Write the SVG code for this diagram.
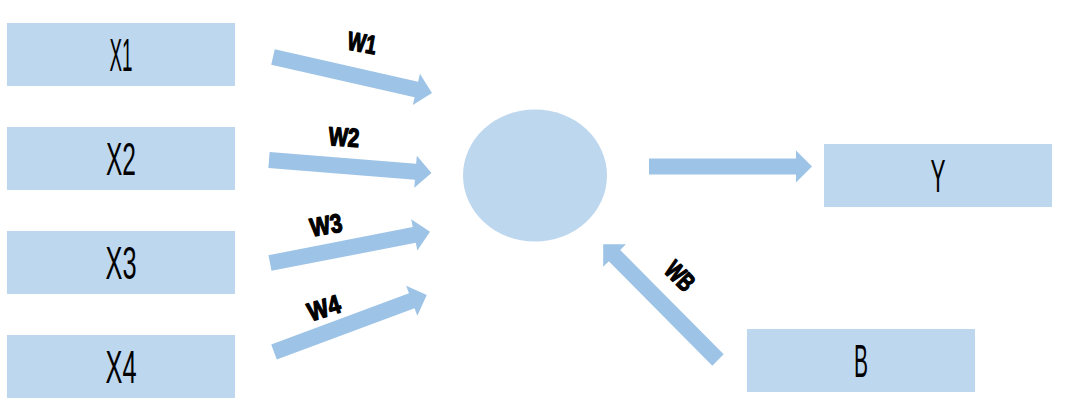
<svg xmlns="http://www.w3.org/2000/svg" xmlns:xlink="http://www.w3.org/1999/xlink" width="1065" height="418" viewBox="0 0 1065 418">
<defs>
<style>
.box{fill:#BDD7EE;}
.arr{fill:#9DC3E6;}
.lbl{font-family:"Liberation Sans",Arial,sans-serif;font-size:46px;fill:#000;text-anchor:middle;}
.w{font-family:"Liberation Sans",Arial,sans-serif;font-size:26px;font-weight:bold;fill:#000;stroke:#000;stroke-width:1.3;stroke-linejoin:round;text-anchor:middle;}
</style>
<path id="arrow" d="M0,-8 L147,-8 L147,-16 L163,0 L147,16 L147,8 L0,8 Z"/>
</defs>
<rect width="1065" height="418" fill="#ffffff"/>
<g id="x1"><rect class="box" x="7" y="23" width="228" height="63"/><text class="lbl" x="121" y="71" textLength="23" lengthAdjust="spacingAndGlyphs">X1</text></g>
<g id="x2"><rect class="box" x="7" y="127" width="228" height="63"/><text class="lbl" x="121" y="175" textLength="30" lengthAdjust="spacingAndGlyphs">X2</text></g>
<g id="x3"><rect class="box" x="7" y="231" width="228" height="63"/><text class="lbl" x="121" y="279" textLength="31" lengthAdjust="spacingAndGlyphs">X3</text></g>
<g id="x4"><rect class="box" x="7" y="335" width="228" height="63"/><text class="lbl" x="121" y="383" textLength="31" lengthAdjust="spacingAndGlyphs">X4</text></g>
<g id="neuron"><ellipse class="box" cx="535" cy="175.5" rx="72" ry="66"/></g>
<g id="y"><rect class="box" x="824" y="144" width="228" height="63"/><text class="lbl" x="938" y="192" textLength="15" lengthAdjust="spacingAndGlyphs">Y</text></g>
<g id="b"><rect class="box" x="747" y="329" width="228" height="63"/><text class="lbl" x="861" y="377" textLength="14" lengthAdjust="spacingAndGlyphs">B</text></g>
<g id="connectors">
<use class="arr" xlink:href="#arrow" href="#arrow" transform="translate(273,57) rotate(12.76)"/>
<use class="arr" xlink:href="#arrow" href="#arrow" transform="translate(269,160) rotate(4.56)"/>
<use class="arr" xlink:href="#arrow" href="#arrow" transform="translate(270,263) rotate(-11.03)"/>
<use class="arr" xlink:href="#arrow" href="#arrow" transform="translate(274,352) rotate(-20.43)"/>
<use class="arr" xlink:href="#arrow" href="#arrow" transform="translate(649,166.5)"/>
<use class="arr" xlink:href="#arrow" href="#arrow" transform="translate(718,360) rotate(-134.75)"/>
<text class="w" transform="translate(362,43) rotate(10)" x="0" y="9" textLength="29" lengthAdjust="spacingAndGlyphs">W1</text>
<text class="w" transform="translate(344,137) rotate(4)" x="0" y="9" textLength="31" lengthAdjust="spacingAndGlyphs">W2</text>
<text class="w" transform="translate(326,225) rotate(-10)" x="0" y="9" textLength="32" lengthAdjust="spacingAndGlyphs">W3</text>
<text class="w" transform="translate(324,308) rotate(-17)" x="0" y="9" textLength="33" lengthAdjust="spacingAndGlyphs">W4</text>
<text class="w" transform="translate(680,276) rotate(45)" x="0" y="9" textLength="31" lengthAdjust="spacingAndGlyphs">WB</text>
</g>
</svg>
